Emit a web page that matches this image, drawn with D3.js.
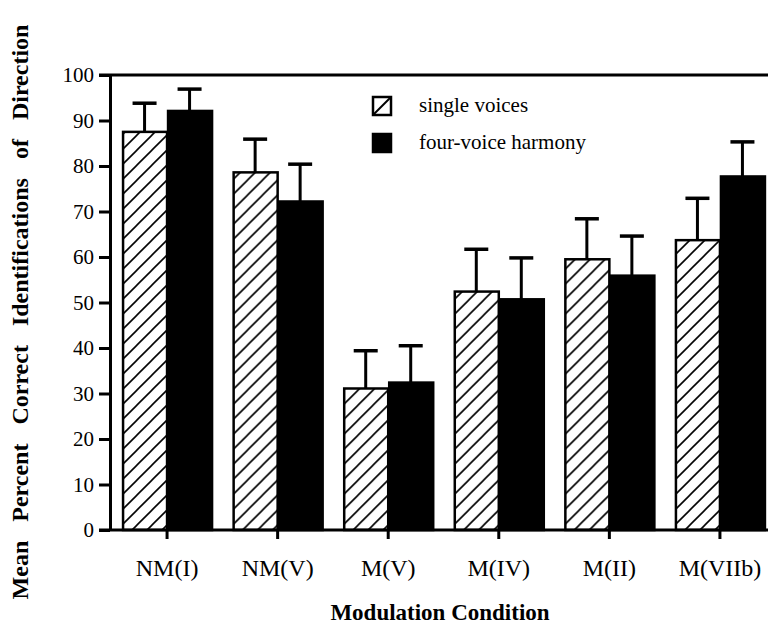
<!DOCTYPE html>
<html>
<head>
<meta charset="utf-8">
<script src="https://cdn.jsdelivr.net/npm/d3@7"></script>
<style>
  html, body { margin: 0; padding: 0; background: #fff; }
  svg { display: block; }
  text { font-family: "Liberation Serif", "Times New Roman", serif; fill: #000; }
</style>
</head>
<body>
<script>
// ---- data ----
const categories = ["NM(I)", "NM(V)", "M(V)", "M(IV)", "M(II)", "M(VIIb)"];
const seriesNames = ["single voices", "four-voice harmony"];
const singleVoices = [87.5, 78.6, 31.1, 52.4, 59.5, 63.7];
const singleVoicesErr = [6.3, 7.3, 8.3, 9.3, 8.9, 9.2];
const fourVoiceHarmony = [92.1, 72.2, 32.4, 50.7, 55.9, 77.7];
const fourVoiceHarmonyErr = [4.8, 8.2, 8.1, 9.1, 8.7, 7.6];
const yTicks = [0, 10, 20, 30, 40, 50, 60, 70, 80, 90, 100];
const xTitle = "Modulation Condition";
const yTitle = "Mean Percent Correct Identifications of Direction";

const W = 768, H = 627;
const svg = d3.select("body").append("svg").attr("width", W).attr("height", H);

const defs = svg.append("defs");
const pat = defs.append("pattern").attr("id", "hatch")
  .attr("patternUnits", "userSpaceOnUse").attr("width", 15).attr("height", 15);
pat.append("rect").attr("width", 15).attr("height", 15).attr("fill", "#fff");
pat.append("path").attr("d", "M-2,17 L17,-2 M-2,2 L2,-2 M13,17 L17,13")
  .attr("stroke", "#000").attr("stroke-width", 1.6);

const x = d3.scaleBand().domain(categories).range([111, 776]).paddingInner(0.186).paddingOuter(0.1);
const xs = d3.scaleBand().domain(seriesNames).range([0, x.bandwidth()]);
const y = d3.scaleLinear().domain([0, 100]).range([530, 75]);

const rows = categories.map((c, i) => ({
  cat: c,
  vals: [
    { s: seriesNames[0], v: singleVoices[i], e: singleVoicesErr[i] },
    { s: seriesNames[1], v: fourVoiceHarmony[i], e: fourVoiceHarmonyErr[i] }
  ]
}));

const plot = svg.append("g");
const groups = plot.selectAll("g.grp").data(rows).join("g")
  .attr("class", "grp").attr("transform", d => `translate(${x(d.cat)},0)`);

groups.selectAll("g.err").data(d => d.vals).join("g").attr("class", "err")
  .each(function(d) {
    const g = d3.select(this);
    const cx = xs(d.s) + xs.bandwidth() / 2;
    g.append("line").attr("x1", cx).attr("x2", cx)
      .attr("y1", y(d.v)).attr("y2", y(d.v + d.e))
      .attr("stroke", "#000").attr("stroke-width", 3);
    g.append("line").attr("x1", cx - 12).attr("x2", cx + 12)
      .attr("y1", y(d.v + d.e)).attr("y2", y(d.v + d.e))
      .attr("stroke", "#000").attr("stroke-width", 3.5);
  });

groups.selectAll("rect.bar").data(d => d.vals).join("rect").attr("class", "bar")
  .attr("x", d => xs(d.s) + 1)
  .attr("width", xs.bandwidth() - 1)
  .attr("y", d => y(d.v))
  .attr("height", d => y(0) - y(d.v))
  .attr("fill", d => d.s === seriesNames[0] ? "url(#hatch)" : "#000")
  .attr("stroke", "#000").attr("stroke-width", 2.5);

// axes
const yAxis = svg.append("g").attr("transform", "translate(110,0)")
  .call(d3.axisLeft(y).tickValues(yTicks).tickSize(11).tickSizeOuter(0).tickPadding(6));
yAxis.select(".domain").attr("stroke-width", 3);
yAxis.selectAll(".tick line").attr("stroke-width", 3);
yAxis.selectAll(".tick text").style("font-size", "21px")
  .style("font-family", "'Liberation Serif', serif").attr("x", -16);

const xAxis = svg.append("g").attr("transform", "translate(0,530)")
  .call(d3.axisBottom(x).tickSize(9).tickSizeOuter(0));
xAxis.select(".domain").remove();
xAxis.selectAll(".tick line").attr("stroke-width", 3);
xAxis.selectAll(".tick text").style("font-size", "24px")
  .style("font-family", "'Liberation Serif', serif")
  .attr("y", 46).attr("dy", 0);

// frame lines
svg.append("line").attr("x1", 99).attr("x2", W).attr("y1", y(0)).attr("y2", y(0))
  .attr("stroke", "#000").attr("stroke-width", 3);
svg.append("line").attr("x1", 99).attr("x2", W).attr("y1", y(100)).attr("y2", y(100))
  .attr("stroke", "#000").attr("stroke-width", 3);

// legend
const leg = svg.append("g");
const legY = [97, 134];
seriesNames.forEach((s, i) => {
  const g = leg.append("g").attr("transform", `translate(373,${legY[i]})`);
  g.append("rect").attr("width", 18).attr("height", 18)
    .attr("fill", i === 0 ? "#fff" : "#000").attr("stroke", "#000").attr("stroke-width", 2.5);
  if (i === 0) g.append("line").attr("x1", 1).attr("y1", 17).attr("x2", 17).attr("y2", 1)
    .attr("stroke", "#000").attr("stroke-width", 2);
  g.append("text").attr("x", 46).attr("y", 15).style("font-size", "21px").text(s);
});

// titles
svg.append("text").attr("x", 440).attr("y", 620).attr("text-anchor", "middle")
  .style("font-size", "23px").style("font-weight", "bold").text(xTitle);
svg.append("text").attr("transform", "translate(28,312) rotate(-90)")
  .attr("text-anchor", "middle").style("font-size", "24px").style("font-weight", "bold")
  .style("word-spacing", "13px").text(yTitle);
</script>
</body>
</html>
